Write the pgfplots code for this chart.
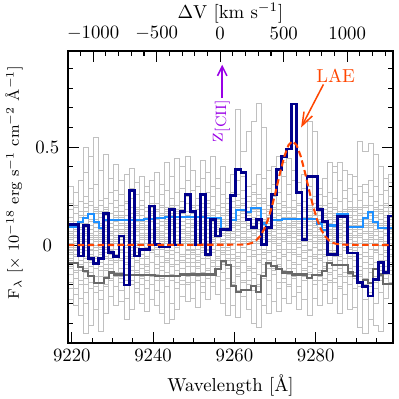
\documentclass[border=0pt]{standalone}
\usepackage{pgfplots}
\usepackage{pgfplotstable}
\pgfplotsset{compat=1.18}
\usetikzlibrary{arrows.meta}

\definecolor{specblue}{RGB}{0,0,140}
\definecolor{noiseblue}{RGB}{30,144,255}
\definecolor{noisegrey}{RGB}{105,105,105}
\definecolor{skygrey}{RGB}{192,192,192}
\definecolor{laeorange}{RGB}{255,69,0}
\definecolor{ciipurple}{RGB}{153,0,230}

% left bin edges, spectrum, upper / lower noise
\pgfplotstableread{
x f up lo
9219.10 0.106 0.09 -0.09
9220.35 0.106 0.09 -0.09
9221.60 -0.056 0.12 -0.11
9222.85 0.10 0.14 -0.13
9224.10 -0.068 0.16 -0.158
9225.35 -0.093 0.12 -0.195
9226.60 -0.068 0.085 -0.195
9227.85 0.162 0.13 -0.17
9229.10 -0.036 0.13 -0.14
9230.35 -0.058 0.13 -0.15
9231.60 0.046 0.13 -0.15
9232.85 -0.204 0.128 -0.155
9234.10 0.28 0.128 -0.155
9235.35 -0.056 0.13 -0.155
9236.60 -0.022 0.13 -0.155
9237.85 -0.022 0.132 -0.155
9239.10 0.199 0.135 -0.155
9240.35 0.003 0.14 -0.158
9241.60 -0.01 0.14 -0.158
9242.85 -0.01 0.145 -0.158
9244.10 0.18 0.145 -0.158
9245.35 0.0 0.145 -0.158
9246.60 0.17 0.145 -0.15
9247.85 0.26 0.145 -0.15
9249.10 0.17 0.145 -0.15
9250.35 0.0 0.145 -0.15
9251.60 0.26 0.145 -0.15
9252.85 -0.05 0.14 -0.15
9254.10 0.13 0.14 -0.15
9255.35 0.046 0.14 -0.12
9256.60 0.08 0.084 -0.08
9257.85 0.08 0.084 -0.10
9259.10 0.255 0.13 -0.21
9260.35 0.385 0.18 -0.24
9261.60 0.37 0.18 -0.23
9262.85 0.13 0.17 -0.23
9264.10 0.09 0.19 -0.21
9265.35 0.13 0.19 -0.24
9266.60 0.003 0.11 -0.16
9267.85 0.09 0.094 -0.09
9269.10 0.26 0.13 -0.105
9270.35 0.386 0.13 -0.12
9271.60 0.45 0.135 -0.14
9272.85 0.49 0.135 -0.14
9274.10 0.72 0.135 -0.15
9275.35 0.27 0.135 -0.15
9276.60 0.03 0.135 -0.15
9277.85 0.35 0.135 -0.17
9279.10 0.35 0.135 -0.155
9280.35 0.18 0.11 -0.155
9281.60 0.12 0.075 -0.13
9282.85 -0.047 0.10 -0.09
9284.10 -0.047 0.10 -0.10
9285.35 0.145 0.16 -0.10
9286.60 0.145 0.16 -0.10
9287.85 -0.04 0.09 -0.14
9289.10 -0.04 0.09 -0.16
9290.35 -0.19 0.09 -0.195
9291.60 -0.21 0.14 -0.18
9292.85 -0.26 0.17 -0.195
9294.10 -0.175 0.12 -0.12
9295.35 -0.09 0.085 -0.15
9296.60 -0.14 0.085 -0.2
9297.85 0.148 0.085 -0.2
9299.10 0.148 0.085 -0.2
}\spec

% sky apertures, first group
\pgfplotstableread{
x g1 g2 g3 g4 g5 g6 g7 g8 g9 g10 g11 g12 g13 g14 g15 g16
9219.10 .05 -.12 .21 -.03 .09 -.22 .01 .14 -.07 .30 -.01 .03 -.15 .07 -.04 -.28
9220.35 -.02 .16 -.09 .04 -.25 .11 .27 -.05 .02 -.13 .08 -.01 .19 -.31 .05 -.06
9221.60 .12 -.04 .03 -.18 .33 -.08 -.02 .22 .06 -.27 .01 .15 -.11 .04 -.36 .09
9222.85 -.09 .25 .07 .50 -.14 .02 -.30 .05 -.03 .11 -.20 .37 .00 -.06 .17 -.45
9224.10 .20 -.06 -.41 .10 .04 -.16 .13 -.02 .29 .06 -.09 -.03 .45 -.22 .01 .08
9225.35 -.03 .09 .17 -.24 .55 .03 -.12 .31 -.07 -.01 .12 -.33 .05 .19 -.10 .02
9226.60 .06 -.19 .02 .14 -.05 .38 .08 -.28 .00 .23 -.11 .04 -.02 .11 -.44 .16
9227.85 .15 .03 -.10 -.01 .24 -.07 .46 .09 -.21 -.04 .02 .18 -.35 .07 .12 -.13
9229.10 -.12 .21 .05 -.08 .11 .01 -.03 -.17 .34 .13 -.26 .06 .09 -.02 .27 -.05
9230.35 .02 -.09 .28 .12 -.31 .07 .19 .04 -.05 -.14 .41 -.02 .15 .23 -.08 .01
9231.60 -.07 .14 -.02 .26 .06 -.23 .01 .11 .17 -.04 -.12 .33 -.29 .03 .08 -.16
9232.85 .09 -.27 .13 .02 -.06 .18 -.15 .36 -.01 .07 .04 -.09 .22 -.38 .05 .11
9234.10 -.05 .06 -.20 .16 .29 -.03 .10 -.11 .03 .24 -.33 .01 -.07 .14 .39 -.18
9235.35 .18 -.01 .07 -.13 .02 .32 -.24 .05 .12 -.08 .15 -.04 .26 .00 -.19 .09
9236.60 .01 .23 -.07 .04 -.17 .10 .06 -.30 .20 .13 -.02 .08 -.12 .35 -.05 -.25
9237.85 -.10 .04 .30 -.06 .12 -.02 .17 .09 -.22 .03 .27 -.14 .05 -.01 .10 -.34
9239.10 .13 -.15 .02 .19 -.04 .08 -.28 .01 .25 -.09 .06 .16 -.03 -.20 .33 .04
9240.35 -.02 .11 -.23 .07 .37 -.12 .03 .14 -.06 .21 -.01 -.31 .09 .05 -.16 .18
9241.60 .07 -.06 .15 -.35 .01 .26 .10 -.02 .04 -.18 .12 .06 .31 -.11 .02 -.24
9242.85 -.14 .19 .04 .09 -.21 .03 -.08 .28 .13 -.03 .01 .42 -.40 .16 .06 -.07
9244.10 .24 -.03 .11 -.10 .06 -.30 .15 .02 -.16 .08 .35 -.05 .01 .20 -.38 .12
9245.35 .03 .17 -.08 .44 -.13 .09 .05 -.22 .01 .27 -.04 .13 -.33 .07 .18 -.01
9246.60 -.09 .06 .22 .01 .16 -.18 .40 .08 -.05 .12 -.26 .03 .19 -.12 .04 .29
9247.85 .14 -.11 .02 -.20 .09 .33 -.03 .17 .45 -.07 .06 -.15 .01 .25 -.29 .05
9249.10 -.04 .28 .10 .05 -.27 .01 .13 -.09 .20 .03 -.14 .38 .07 -.02 .11 -.19
9250.35 .11 -.02 -.16 .18 .04 .12 -.32 .06 -.08 .30 .02 -.05 .24 .14 -.11 .08
9251.60 -.07 .15 .06 .34 -.10 .03 .21 -.19 .09 -.01 .43 .05 -.24 .12 .17 -.03
9252.85 .19 -.13 .27 .02 .08 -.06 .04 .11 -.28 .16 -.02 .37 .10 -.17 .01 .23
9254.10 .02 .09 -.04 .14 -.21 .25 -.11 .03 .18 .06 .12 -.08 .30 .45 -.15 -.02
9255.35 -.11 .04 .16 -.07 .11 .01 .29 -.16 .05 .20 -.03 .07 -.25 .13 .08 .34
9256.60 .08 .21 -.09 .03 .40 -.14 .06 .12 -.01 -.30 .15 .02 .09 -.05 .26 -.18
9257.85 -.03 .10 .05 -.22 .13 .32 -.07 .01 .24 .08 -.12 .17 .04 -.36 .11 .06
9259.10 .16 -.08 .22 .07 -.02 .11 .36 -.19 .03 .14 .27 -.05 .09 .01 -.31 .19
9260.35 .05 .69 .12 -.15 .19 .02 -.06 .26 .10 -.23 .04 .33 -.11 .15 .07 -.37
9261.60 -.01 .28 .48 .06 -.18 .14 .09 -.04 .35 .02 .12 -.26 .17 .21 -.09 .04
9262.85 .10 .04 .58 -.12 .25 -.06 .16 .03 -.33 .19 .07 .30 -.02 .11 -.20 .13
9264.10 -.06 .17 .08 .31 .63 .01 -.14 .22 .05 -.40 .10 -.03 .13 .27 .02 -.23
9265.35 .12 -.09 .26 .04 .72 -.21 .07 .15 .01 .11 -.28 .36 .03 -.05 .18 -.42
9266.60 .03 .21 -.05 .60 .13 .08 .34 -.17 -.02 .24 .05 -.31 .10 .16 -.10 .01
9267.85 .18 -.04 .09 .14 -.25 .29 .02 .06 .20 -.12 .38 .03 -.08 .11 .07 -.35
9269.10 -.08 .13 .31 .02 .07 -.15 .10 .25 -.03 .16 -.29 .05 .40 .08 -.12 .19
9270.35 .06 .27 -.11 .18 .01 .09 -.22 .04 .45 .12 .03 -.07 .15 -.34 .21 .00
9271.60 .14 -.06 .04 .35 -.19 .02 .13 .42 .08 -.02 .22 .11 -.27 .06 .17 -.13
9272.85 -.04 .19 .11 .07 .26 -.12 .05 .01 .16 .31 -.08 .44 .02 -.21 .09 -.30
9274.10 .09 .02 -.17 .23 .12 .38 -.05 .14 -.02 .07 .18 -.26 .33 .04 -.10 .11
9275.35 .21 -.10 .07 -.01 .32 .05 .16 -.24 .11 .01 -.06 .27 .08 .13 -.33 .03
9276.60 .03 .14 .29 -.13 .06 -.04 .10 .19 .36 -.18 .02 .09 -.07 .22 .12 -.28
9277.85 -.09 .08 .63 .17 -.02 .24 -.15 .05 .12 .03 .30 -.11 .19 -.36 .06 .14
9279.10 .12 .25 .04 .58 -.20 .09 .01 .16 -.05 .21 -.01 .35 .07 .10 -.27 .02
9280.35 .05 -.07 .18 .02 .13 -.14 .26 .08 .01 -.31 .15 .04 -.03 .29 .11 -.18
9281.60 -.12 .16 .03 .10 -.05 .20 .07 -.23 .14 .05 -.02 .25 .34 -.09 .01 .08
9282.85 .08 .01 -.19 .13 .27 .03 -.08 .11 .42 .17 -.14 .06 -.04 .02 -.30 .21
9284.10 .15 -.03 .10 -.27 .06 .37 .13 .02 -.10 .24 .07 -.17 .19 .05 .40 -.06
9285.35 -.05 .22 .06 .01 -.15 .11 .33 .17 .04 -.22 .42 .09 .02 -.12 .14 -.35
9286.60 .02 .07 .24 -.10 .18 -.03 .05 .38 -.25 .12 .01 .15 -.07 .28 .09 -.16
9287.85 .17 -.14 .03 .09 .01 .29 -.06 .12 .22 -.01 -.33 .06 .14 .04 -.20 .36
9289.10 -.03 .12 .19 -.32 .08 .02 .15 -.11 .05 .35 .10 -.04 .26 -.22 .07 .01
9290.35 .10 -.21 .05 .16 .53 -.07 .01 .23 -.15 .04 .13 -.42 .08 .19 -.01 .30
9291.60 -.06 .27 .13 .02 .48 .10 -.17 .06 .31 -.28 .03 .14 -.09 .01 .20 -.45
9292.85 .13 .04 -.24 .20 .52 -.02 .09 -.12 .16 .07 -.38 .25 .01 .11 -.06 .33
9294.10 .01 .18 .08 -.09 .30 .14 -.19 .46 .03 -.03 .22 .05 -.30 .12 .17 -.41
9295.35 .20 -.05 .11 .04 -.16 .26 .07 .02 .13 .40 -.11 .09 .16 -.24 .03 -.44
9296.60 -.08 .15 .02 .28 .10 -.13 .21 .06 -.27 .01 .17 .12 -.04 .34 -.17 .05
9297.85 .07 -.11 .19 .03 .14 .32 -.06 .10 .01 -.20 .08 .25 -.15 .04 .36 -.02
9299.10 .07 -.11 .19 .03 .14 .32 -.06 .10 .01 -.20 .08 .25 -.15 .04 .36 -.02
}\sky

% sky apertures, second group
\pgfplotstableread{
x h1 h2 h3 h4 h5 h6 h7 h8 h9 h10 h11 h12 h13 h14
9219.10 .03 -.08 .12 -.15 .06 -.02 .18 -.11 .09 -.05 .01 .14 -.19 .04
9220.35 .10 -.03 -.14 .07 .01 .20 -.09 .04 -.17 .12 -.06 .02 .08 -.22
9221.60 -.06 .14 .02 -.10 .17 -.04 .08 -.20 .11 .01 .22 -.13 .05 .00
9222.85 .08 -.17 .19 .03 -.07 .11 -.01 .15 -.24 .06 -.12 .09 -.03 .21
9224.10 -.11 .05 -.03 .22 .12 -.19 .06 .01 .16 -.08 .03 -.14 .10 -.05
9225.35 .16 .02 .09 -.12 -.01 .07 -.21 .13 .04 .18 -.06 .00 -.16 .11
9226.60 -.01 .20 -.16 .05 .14 -.09 .03 .10 -.13 .02 .17 .07 -.04 -.23
9227.85 .04 -.12 .07 .17 -.20 .01 .13 -.06 .08 -.16 .10 -.02 .19 .05
9229.10 .13 .07 -.05 -.18 .03 .16 -.10 .21 .00 .09 -.14 .11 -.07 .02
9230.35 -.16 .10 .14 .01 .08 -.05 .19 -.02 .12 -.21 .05 .17 .03 -.09
9231.60 .07 -.14 .01 .11 -.17 .13 .04 -.08 .20 .06 -.03 -.19 .15 .10
9232.85 -.04 .18 .10 -.07 .15 .00 -.18 .06 -.10 .13 .21 .03 -.12 .08
9234.10 .11 -.01 -.13 .19 .05 -.15 .09 .14 -.06 -.11 .02 .16 .07 -.20
9235.35 -.09 .12 .16 -.04 -.22 .08 .02 -.14 .17 .05 -.08 .10 .19 .01
9236.60 .05 -.10 .04 .13 .09 -.20 .15 .03 -.02 .18 .11 -.16 .00 .12
9237.85 .19 .06 -.11 -.02 .14 .10 -.07 .17 .01 -.13 .08 .04 -.18 -.03
9239.10 -.02 .15 .08 -.16 .02 .21 .05 -.09 .13 .00 -.20 .12 .06 .17
9240.35 .09 -.18 .13 .06 -.10 .04 .17 .11 -.15 .08 .14 -.05 .01 -.12
9241.60 -.13 .03 -.06 .20 .10 -.11 .01 .16 .07 -.17 .05 .19 -.09 .14
9242.85 .02 .17 .11 -.09 .18 .06 -.14 -.04 .10 .15 -.21 .08 .12 -.01
9244.10 .14 -.07 -.18 .08 -.03 .13 .10 .19 -.11 .02 .07 -.15 .16 .05
9245.35 -.08 .11 .05 -.13 .16 -.01 -.19 .07 .14 .20 -.04 .02 -.10 .18
9246.60 .06 -.15 .18 .02 -.08 .19 .12 -.12 .04 -.06 .16 .10 .07 -.20
9247.85 .17 .04 -.09 .15 .07 -.16 .03 .13 -.19 .11 -.02 .21 -.05 .09
9249.10 -.05 .19 .13 -.11 .20 .05 -.07 .02 .16 -.14 .09 -.03 .14 .07
9250.35 .10 -.12 .01 .18 -.15 .14 .20 -.06 .03 .08 -.18 .12 .05 -.09
9251.60 .01 .08 -.14 .06 .12 -.10 .09 .16 -.04 .19 .05 -.21 .11 .15
9252.85 -.12 .16 .10 -.03 .04 .21 -.13 .08 .15 -.07 .12 .02 -.17 .06
9254.10 .15 .01 .05 -.19 .17 .03 .11 -.15 .07 .13 -.09 .18 .04 -.02
9255.35 .07 -.16 .20 .10 -.06 .12 .00 .14 -.11 .04 .17 -.08 .13 .09
9256.60 -.10 .13 -.04 .16 .08 -.18 .15 .05 .19 -.03 .01 .11 -.14 .06
9257.85 .12 .05 .15 -.08 .21 .07 -.05 -.17 .09 .16 -.12 .03 .18 -.01
9259.10 .04 -.11 .09 .19 -.02 .14 .22 .06 -.20 .10 .03 -.07 .11 .16
9260.35 -.07 .20 -.12 .11 .15 -.04 .08 .23 .02 -.16 .18 .13 -.09 .05
9261.60 .16 .09 .06 -.14 .24 .11 -.08 .03 .17 .07 -.19 .20 .01 .12
9262.85 .02 -.06 .19 .13 -.11 .22 .15 -.13 .08 .25 .04 -.02 .16 -.18
9264.10 .11 .18 -.03 .08 .05 -.17 .26 .10 -.05 .14 .20 .06 -.12 .03
9265.35 -.08 .07 .21 -.02 .17 .12 -.15 .19 .11 -.09 .02 .24 .08 -.20
9266.60 .13 -.14 .04 .16 -.07 .06 .10 -.04 .22 .01 -.16 .09 .18 .12
9267.85 .05 .12 -.10 .20 .09 -.12 .17 .07 -.03 .15 .11 -.18 .02 .08
9269.10 -.13 .03 .14 .07 .18 .10 -.06 .16 .04 -.11 .19 .01 -.15 .13
9270.35 .18 .10 -.07 .12 -.04 .16 .08 -.19 .13 .06 -.02 .15 .11 -.10
9271.60 .06 -.17 .16 -.05 .13 .02 .20 .11 -.14 .09 .14 -.06 .03 .19
9272.85 -.02 .14 .09 .19 -.15 .07 .01 .17 .06 -.20 .10 .13 -.08 .04
9274.10 .12 .01 -.12 .10 .06 -.09 .16 -.02 .19 .11 -.16 .07 .14 -.04
9275.35 -.10 .17 .05 -.15 .20 .13 -.05 .09 .02 .16 .06 -.21 .08 .12
9276.60 .07 -.08 .18 .04 -.12 .19 .11 -.16 .14 .00 .13 .05 -.03 .17
9277.85 .15 .06 -.14 .12 .08 -.03 .18 .07 -.09 .20 -.17 .10 .02 -.06
9279.10 -.06 .19 .10 -.10 .15 .05 -.18 .13 .04 -.07 .11 .16 -.12 .09
9280.35 .03 -.13 .07 .17 -.05 .20 .09 -.08 .15 .12 -.02 -.16 .19 .01
9281.60 .11 .08 -.17 .05 .12 -.11 .02 .18 -.06 .09 .14 .04 -.20 .15
9282.85 -.12 .14 .11 -.04 .02 .16 -.15 .06 .10 -.18 .07 .19 .05 -.03
9284.10 .09 -.04 .16 .13 -.19 .04 .12 -.10 .18 .03 -.13 .08 .14 .06
9285.35 .17 .10 -.08 -.16 .11 .08 .05 .15 -.12 .13 .02 -.06 .09 -.21
9286.60 -.03 .05 .12 .09 -.14 .17 -.10 .02 .07 .16 -.19 .11 -.01 .14
9287.85 .08 -.15 .03 .18 .06 -.07 .14 -.12 .19 -.02 .10 .15 -.16 .05
9289.10 -.14 .11 .17 -.06 .13 .02 -.17 .09 .04 .12 -.08 -.01 .18 .10
9290.35 .05 -.19 -.05 .10 -.11 .15 .08 -.16 .12 .01 .18 -.13 .06 -.07
9291.60 .13 .02 .09 -.20 .16 -.09 .03 .11 -.18 .07 -.04 .14 -.12 .19
9292.85 -.07 .15 -.12 .06 .01 .12 -.21 .17 .03 -.14 .10 .05 .16 -.10
9294.10 .10 -.09 .14 .19 -.16 .05 .11 -.04 .15 .08 -.22 .12 -.02 .07
9295.35 .02 .18 -.18 .04 .10 -.13 .16 .07 -.08 .17 .03 -.11 .13 .00
9296.60 -.11 .06 .08 .14 -.03 .19 -.06 .12 .20 -.15 .09 .02 -.17 .11
9297.85 .14 -.02 .11 -.09 .17 .03 .09 -.19 .06 .13 -.05 .16 .04 -.13
9299.10 .14 -.02 .11 -.09 .17 .03 .09 -.19 .06 .13 -.05 .16 .04 -.13
}\skyb

\begin{document}
\begin{tikzpicture}
\pgfplotsset{
  frame/.style={
    scale only axis, width=173.2pt, height=155.6pt,
    tick align=inside, major tick length=5.9pt, minor tick length=2.7pt,
    axis line style={line width=0.7pt}, every tick/.style={black, line width=0.6pt},
    /pgf/number format/1000 sep={},
  }
}
\begin{axis}[
  frame,
  xmin=9219.05, xmax=9299, ymin=-0.5, ymax=0.99,
  xtick={9220,9240,9260,9280}, minor xtick={9225,9230,...,9295},
  ytick={0,0.5}, minor ytick={-0.4,-0.3,...,0.95},
  xtick pos=lower, ytick pos=both,
  yticklabel style={anchor=center, xshift=-11pt},
  xlabel={Wavelength [\AA]},
  ylabel={F$_\lambda$ [$\times$ 10$^{-18}$ erg s$^{-1}$ cm$^{-2}$ \AA$^{-1}$]},
  every axis y label/.style={at={(axis description cs:-0.166,0.55)}, anchor=center,
    rotate=90, font=\fontsize{8.2}{9}\selectfont},
]
\pgfplotsinvokeforeach{1,...,16}{
  \addplot[const plot, skygrey, line width=0.5pt] table[x=x, y=g#1] {\sky};
}
\pgfplotsinvokeforeach{1,...,14}{
  \addplot[const plot, skygrey, line width=0.5pt] table[x=x, y=h#1] {\skyb};
}
\addplot[const plot, noisegrey, line width=1.1pt] table[x=x, y=lo] {\spec};
\addplot[const plot, noiseblue, line width=1.1pt] table[x=x, y=up] {\spec};
\addplot[const plot, specblue, line width=1.5pt] table[x=x, y=f] {\spec};
\addplot[laeorange, line width=1.1pt, dash pattern=on 3.5pt off 1.8pt] coordinates {
  (9219,0) (9262.3,0.002) (9263.3,0.005) (9264.3,0.011) (9265.3,0.023)
  (9266.3,0.045) (9267.3,0.080) (9268.3,0.132) (9269.3,0.202) (9270.3,0.286)
  (9271.3,0.375) (9272.3,0.454) (9273.3,0.510) (9274.3,0.530) (9275.3,0.510)
  (9276.3,0.454) (9277.3,0.375) (9278.3,0.286) (9279.3,0.202) (9280.3,0.132)
  (9281.3,0.080) (9282.3,0.045) (9283.3,0.023) (9284.3,0.011) (9285.3,0.005)
  (9286.3,0.002) (9299,0)
};
\draw[ciipurple, line width=0.8pt, -{Straight Barb[length=5pt,width=5pt]}]
  (axis cs:9257,0.75) -- (axis cs:9257,0.92);
\node[ciipurple, rotate=90, font=\large] at (axis cs:9256.8,0.635) {z$_{\mathrm{[CII]}}$};
\node[laeorange] at (axis cs:9284.9,0.866) {LAE};
\draw[laeorange, line width=0.8pt, -{Straight Barb[length=7pt,width=5pt]}]
  (axis cs:9281.9,0.82) -- (axis cs:9276.4,0.60);
\end{axis}
\begin{axis}[
  frame,
  xmin=-1198.3, xmax=1360.2, ymin=0, ymax=1,
  xtick={-1000,-500,0,500,1000}, minor xtick={-1100,-1000,...,1300},
  xtick pos=upper, xticklabel pos=upper, ytick=\empty,
  xticklabel style={yshift=2.5pt},
  xlabel={$\Delta$V\,\,[km s$^{-1}$]},
  every axis x label/.style={at={(axis description cs:0.5,1.13)}, anchor=center},
]
\addplot[draw=none] coordinates {(0,0.5)};
\end{axis}
\pgfresetboundingbox
\path (-36.2pt,-29.8pt) rectangle (176.4pt,182.8pt);
\end{tikzpicture}
\end{document}
